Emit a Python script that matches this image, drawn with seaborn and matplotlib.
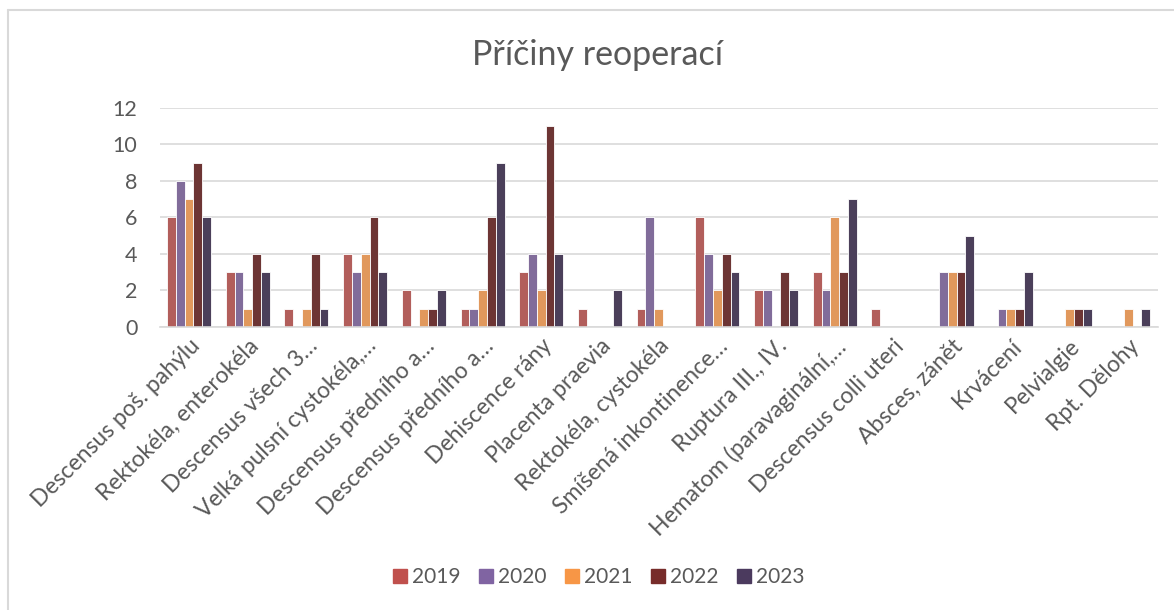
import matplotlib
matplotlib.use("Agg")
import matplotlib.pyplot as plt
from matplotlib.lines import Line2D
import pandas as pd
import seaborn as sns

# data
categories = [
    "Descensus poš. pahýlu", "Rektokéla, enterokéla", "Descensus všech 3…",
    "Velká pulsní cystokéla,…", "Descensus předního a…", "Descensus předního a…",
    "Dehiscence rány", "Placenta praevia", "Rektokéla, cystokéla",
    "Smíšená inkontinence…", "Ruptura III., IV.", "Hematom (paravaginální,…",
    "Descensus colli uteri", "Absces, zánět", "Krvácení", "Pelvialgie", "Rpt. Dělohy",
]
years = ["2019", "2020", "2021", "2022", "2023"]
v2019 = [6, 3, 1, 4, 2, 1, 3, 1, 1, 6, 2, 3, 1, 0, 0, 0, 0]
v2020 = [8, 3, 0, 3, 0, 1, 4, 0, 6, 4, 2, 2, 0, 3, 1, 0, 0]
v2021 = [7, 1, 1, 4, 1, 2, 2, 0, 1, 2, 0, 6, 0, 3, 1, 1, 1]
v2022 = [9, 4, 4, 6, 1, 6, 11, 0, 0, 4, 3, 3, 0, 3, 1, 1, 0]
v2023 = [6, 3, 1, 3, 2, 9, 4, 2, 0, 3, 2, 7, 0, 5, 3, 1, 1]
colors = ["#C0504D", "#8064A2", "#F79646", "#772C2A", "#4B3A5E"]

rows = []
for year, vals in zip(years, [v2019, v2020, v2021, v2022, v2023]):
    for i, v in enumerate(vals):
        rows.append({"idx": i, "year": year, "value": v})
df = pd.DataFrame(rows)

sns.set_theme(style="white")
plt.rcParams["font.family"] = ["Lato", "DejaVu Sans"]
text_color = "#595959"

fig = plt.figure(figsize=(11.74, 6.10), dpi=100)
ax = fig.add_axes([0.136, 0.464, 0.850, 0.359])

sns.barplot(data=df, x="idx", y="value", hue="year", palette=colors,
            width=0.75, edgecolor="white", linewidth=0.6, ax=ax, legend=False)

ax.set_ylim(0, 12)
ax.set_yticks(range(0, 13, 2))
ax.set_xlim(-0.5, len(categories) - 0.5)
ax.yaxis.grid(True, color="#D9D9D9", linewidth=1.2)
ax.set_axisbelow(True)
for s in ["top", "right", "left"]:
    ax.spines[s].set_visible(False)
ax.spines["bottom"].set_color("#D9D9D9")
ax.spines["bottom"].set_linewidth(1.2)
ax.tick_params(axis="both", length=0, colors=text_color, labelsize=15.5)
ax.tick_params(axis="y", pad=16)
ax.tick_params(axis="x", pad=6)
ax.set_xticks(range(len(categories)))
ax.set_xticklabels(categories, rotation=45, ha="right", rotation_mode="anchor",
                   fontsize=16.5, color=text_color)
ax.set_xlabel("")
ax.set_ylabel("")

fig.text(0.509, 0.91, "Příčiny reoperací", ha="center", va="center",
         fontsize=24.5, color=text_color)

handles = [Line2D([0], [0], marker="s", linestyle="", markersize=9.5,
                  markerfacecolor=c, markeredgecolor=c) for c in colors]
fig.legend(handles, years, loc="center", bbox_to_anchor=(0.51, 0.054),
           ncol=5, frameon=False, fontsize=15, labelcolor=text_color,
           handlelength=0.7, handletextpad=0.25, columnspacing=0.85)

# outer chart frame (top and left edges visible in the reference)
fig.add_artist(Line2D([0.007, 1.0], [0.984, 0.984], color="#D9D9D9", linewidth=1.5,
                      transform=fig.transFigure))
fig.add_artist(Line2D([0.007, 0.007], [0.0, 0.984], color="#D9D9D9", linewidth=1.5,
                      transform=fig.transFigure))

fig.savefig("out.png", dpi=100)
